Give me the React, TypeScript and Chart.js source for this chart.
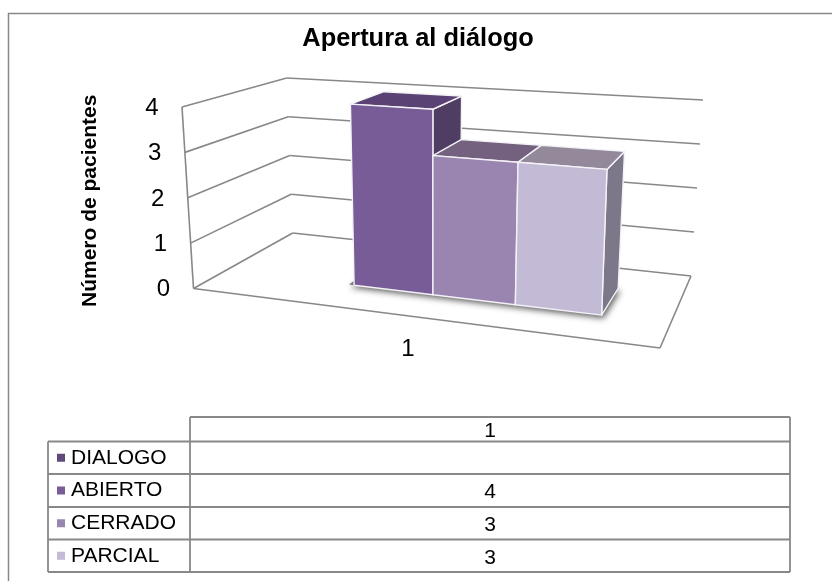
import React, { useEffect, useRef } from "react";
import { Chart, registerables } from "chart.js";

Chart.register(...registerables);

const chartTitle = "Apertura al diálogo";
const valueAxisTitle = "Número de pacientes";
const categories = ["1"];
const seriesNames = ["DIALOGO", "ABIERTO", "CERRADO", "PARCIAL"];
const dialogoValues: (number | null)[] = [null];
const abiertoValues = [4];
const cerradoValues = [3];
const parcialValues = [3];
const valueTicks = [0, 1, 2, 3, 4];

const frontColors = ["#604a7b", "#775c97", "#9a84b0", "#c3bbd5"];
const topColors = ["#4f3c66", "#5a4374", "#73617f", "#93899b"];
const sideColors = ["#463659", "#503d63", "#6d5d80", "#7c7889"];

const FONT = "'Liberation Sans', Arial, sans-serif";
const LINE = "#888888";

type Pt = [number, number];

// Plane-to-plane perspective map from the unit square (u across, z into depth).
function planeMap(p0: Pt, p1: Pt, p2: Pt, p3: Pt) {
  const dx1 = p1[0] - p2[0], dx2 = p3[0] - p2[0], sx = p0[0] - p1[0] + p2[0] - p3[0];
  const dy1 = p1[1] - p2[1], dy2 = p3[1] - p2[1], sy = p0[1] - p1[1] + p2[1] - p3[1];
  const den = dx1 * dy2 - dx2 * dy1;
  const g = (sx * dy2 - dx2 * sy) / den;
  const h = (dx1 * sy - sx * dy1) / den;
  const a = p1[0] - p0[0] + g * p1[0], b = p3[0] - p0[0] + h * p3[0], c = p0[0];
  const d = p1[1] - p0[1] + g * p1[1], e = p3[1] - p0[1] + h * p3[1], f = p0[1];
  return (u: number, z: number): Pt => {
    const w = g * u + h * z + 1;
    return [(a * u + b * z + c) / w, (d * u + e * z + f) / w];
  };
}

// The floor of the 3-D box, and how far a full-height value rises from each floor corner.
const floorPlane = planeMap([193.5, 288.5], [660, 348], [691, 276], [292.7, 233]);
const riseFrontLeft: Pt = [-11.5, -181.5];
const riseFrontRight: Pt = [9, -207];
const riseBackRight: Pt = [12, -176];
const riseBackLeft: Pt = [-6, -155];

const project = (u: number, v: number, z: number): Pt => {
  const base = floorPlane(u, z);
  const rise = (k: 0 | 1) =>
    (1 - z) * ((1 - u) * riseFrontLeft[k] + u * riseFrontRight[k]) +
    z * ((1 - u) * riseBackLeft[k] + u * riseBackRight[k]);
  return [base[0] + rise(0) * v, base[1] + rise(1) * v];
};

const BAR_FRONT = 0.3;
const BAR_BACK = 0.69;
const BAR_NUDGE = -0.005;

function path(ctx: CanvasRenderingContext2D, pts: Pt[]) {
  ctx.beginPath();
  pts.forEach((p, i) => (i ? ctx.lineTo(p[0], p[1]) : ctx.moveTo(p[0], p[1])));
  ctx.closePath();
}

function segment(ctx: CanvasRenderingContext2D, a: Pt, b: Pt) {
  ctx.beginPath();
  ctx.moveTo(a[0], a[1]);
  ctx.lineTo(b[0], b[1]);
  ctx.stroke();
}

const boxPlugin = {
  id: "box3d",
  beforeDatasetsDraw(chart: any) {
    const { ctx, chartArea: area, scales } = chart;
    const toU = (px: number) => (px - area.left) / (area.right - area.left) + BAR_NUDGE;
    const toV = (val: number) =>
      (area.bottom - scales.y.getPixelForValue(val)) / (area.bottom - area.top);

    ctx.save();
    ctx.strokeStyle = LINE;
    ctx.lineWidth = 1.6;
    // walls: one line per tick on the left and back planes
    for (const t of valueTicks) {
      const v = toV(t);
      segment(ctx, project(0, v, 0), project(0, v, 1));
      segment(ctx, project(0, v, 1), project(1, v, 1));
    }
    segment(ctx, project(0, 0, 0), project(0, 1, 0));
    segment(ctx, project(0, 0, 0), project(1, 0, 0));
    segment(ctx, project(1, 0, 0), project(1, 0, 1));

    // tick labels follow the slanted front edge of the left wall
    ctx.fillStyle = "#000";
    ctx.font = `24px ${FONT}`;
    ctx.textAlign = "right";
    ctx.textBaseline = "middle";
    for (const t of valueTicks) {
      const p = project(0, toV(t), 0);
      ctx.fillText(String(t), p[0] - 23.5, scales.y.getPixelForValue(t) + 1);
    }

    ctx.save();
    ctx.translate(96, 200.8);
    ctx.rotate(-Math.PI / 2);
    ctx.font = `bold 21px ${FONT}`;
    ctx.textAlign = "center";
    ctx.textBaseline = "alphabetic";
    ctx.fillText(valueAxisTitle, 0, 0);
    ctx.restore();

    const bars: { u0: number; u1: number; v: number; i: number }[] = [];
    chart.data.datasets.forEach((ds: any, i: number) => {
      const el = chart.getDatasetMeta(i).data[0];
      const val = ds.data[0];
      if (val == null) return;
      bars.push({ u0: toU(el.x - el.width / 2), u1: toU(el.x + el.width / 2), v: toV(val), i });
    });

    // soft contact shadow under the whole row of bars
    ctx.save();
    ctx.shadowColor = "rgba(40,40,40,0.75)";
    ctx.shadowBlur = 6;
    ctx.shadowOffsetX = 2;
    ctx.shadowOffsetY = 3;
    ctx.fillStyle = "#777";
    const uA = bars[0].u0, uB = bars[bars.length - 1].u1;
    path(ctx, [
      project(uA - 0.012, 0, BAR_FRONT), project(uB, 0, BAR_FRONT),
      project(uB, 0, BAR_BACK), project(uA - 0.012, 0, BAR_BACK),
    ]);
    ctx.fill();
    ctx.restore();

    ctx.strokeStyle = "#f4f2f7";
    ctx.lineWidth = 1.4;
    ctx.lineJoin = "round";
    for (const b of bars) {
      const faces: [Pt[], string][] = [
        [[project(b.u1, 0, BAR_FRONT), project(b.u1, 0, BAR_BACK), project(b.u1, b.v, BAR_BACK), project(b.u1, b.v, BAR_FRONT)], sideColors[b.i]],
        [[project(b.u0, b.v, BAR_FRONT), project(b.u1, b.v, BAR_FRONT), project(b.u1, b.v, BAR_BACK), project(b.u0, b.v, BAR_BACK)], topColors[b.i]],
        [[project(b.u0, 0, BAR_FRONT), project(b.u1, 0, BAR_FRONT), project(b.u1, b.v, BAR_FRONT), project(b.u0, b.v, BAR_FRONT)], frontColors[b.i]],
      ];
      for (const [pts, color] of faces) {
        ctx.fillStyle = color;
        path(ctx, pts);
        ctx.fill();
        ctx.stroke();
      }
    }
    ctx.restore();
    return false;
  },
};

// Outer frame and the data table under the plot.
const tablePlugin = {
  id: "dataTable",
  afterDraw(chart: any) {
    const { ctx } = chart;
    const left = 48, split = 190, right = 790;
    const rows = [417, 441.5, 474, 507, 539.5, 572];
    ctx.save();
    ctx.strokeStyle = LINE;
    ctx.lineWidth = 1.5;
    ctx.beginPath();
    ctx.moveTo(8.5, 581);
    ctx.lineTo(8.5, 13.5);
    ctx.lineTo(832, 13.5);
    ctx.stroke();

    ctx.lineWidth = 1.8;
    ctx.beginPath();
    ctx.moveTo(split, rows[0]);
    ctx.lineTo(right, rows[0]);
    for (const y of rows.slice(1)) {
      ctx.moveTo(left, y);
      ctx.lineTo(right, y);
    }
    ctx.moveTo(left, rows[1]);
    ctx.lineTo(left, rows[5]);
    ctx.moveTo(split, rows[0]);
    ctx.lineTo(split, rows[5]);
    ctx.moveTo(right, rows[0]);
    ctx.lineTo(right, rows[5]);
    ctx.stroke();

    ctx.fillStyle = "#000";
    ctx.font = `21px ${FONT}`;
    ctx.textBaseline = "middle";
    ctx.textAlign = "center";
    ctx.fillText(categories[0], (split + right) / 2, (rows[0] + rows[1]) / 2 + 1.5);
    chart.data.datasets.forEach((ds: any, i: number) => {
      const mid = (rows[i + 1] + rows[i + 2]) / 2;
      ctx.fillStyle = frontColors[i];
      ctx.fillRect(57, mid - 4, 8, 8);
      ctx.fillStyle = "#000";
      ctx.textAlign = "left";
      ctx.fillText(ds.label, 71, mid);
      if (ds.data[0] != null) {
        ctx.textAlign = "center";
        ctx.fillText(String(ds.data[0]), (split + right) / 2, mid + 2);
      }
    });
    ctx.restore();
  },
};

export default function App() {
  const ref = useRef<HTMLCanvasElement>(null);

  useEffect(() => {
    const chart = new Chart(ref.current!, {
      type: "bar",
      data: {
        labels: categories,
        datasets: [dialogoValues, abiertoValues, cerradoValues, parcialValues].map((data, i) => ({
          label: seriesNames[i],
          data,
          backgroundColor: frontColors[i],
          categoryPercentage: 0.73,
          barPercentage: 1,
        })),
      },
      options: {
        animation: false,
        responsive: false,
        events: [],
        layout: { padding: { left: 4, right: 0, top: 0, bottom: 0 } },
        plugins: {
          legend: { display: false },
          tooltip: { enabled: false },
          title: {
            display: true,
            text: chartTitle,
            color: "#000",
            font: { family: FONT, size: 25.4, weight: "bold" },
            padding: { top: 24, bottom: 53 },
          },
        },
        scales: {
          x: {
            grid: { display: false, drawTicks: false },
            border: { display: false },
            ticks: { color: "#000", padding: 46, font: { family: FONT, size: 24 } },
            afterFit: (s: any) => { s.height = 292.5; },
          },
          y: {
            min: 0,
            max: 4,
            grid: { display: false, drawTicks: false },
            border: { display: false },
            ticks: { stepSize: 1, display: false },
            afterFit: (s: any) => { s.width = 166; },
          },
          // empty right-hand gutter that keeps the plot clear of the canvas edge
          gutter: {
            type: "linear",
            position: "right",
            grid: { display: false, drawTicks: false },
            border: { display: false },
            ticks: { display: false },
            afterFit: (s: any) => { s.width = 186; },
          },
        },
      },
      plugins: [boxPlugin, tablePlugin],
    } as any);
    return () => chart.destroy();
  }, []);

  return (
    <div style={{ position: "fixed", left: 0, top: 0, width: 832, height: 581, background: "#fff" }}>
      <canvas ref={ref} width={832} height={581} style={{ display: "block" }} />
    </div>
  );
}
